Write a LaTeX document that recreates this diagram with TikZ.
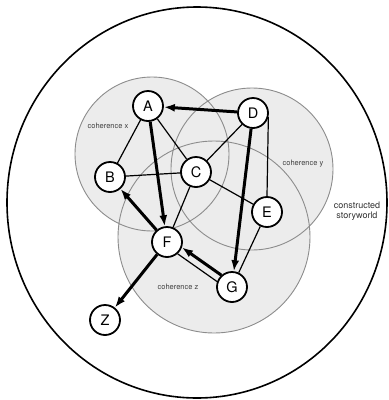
\documentclass[tikz,border=0pt]{standalone}
\usepackage{fontspec}
\setmainfont{TeX Gyre Heros}
\usetikzlibrary{arrows.meta}
\definecolor{cohfill}{HTML}{ECECEC}
\definecolor{cohline}{HTML}{8C8C8C}
\tikzset{>=Latex,event/.style={circle,draw,line width=1.8pt,fill=white,minimum size=30pt,inner sep=0pt,font=\fontsize{14.5}{16}\selectfont},link/.style={line width=1.2pt},arr/.style={-{Latex[length=11pt,width=8pt]},line width=3pt},coh/.style={draw=cohline,line width=0.9pt},cohlabel/.style={font=\fontsize{7.5}{9}\selectfont,text=black!75}}

\begin{document}
\begin{tikzpicture}[x=1pt,y=-1pt]
\useasboundingbox (0,0) rectangle (389,400);
\draw[line width=1.6pt] (197,202.5) ellipse (190 and 195.5);
% coherence areas
\fill[cohfill] (152,154) circle (77) (252,169) circle (81) (214,237) circle (96);
\draw[coh] (152,154) circle (77) (252,169) circle (81) (214,237) circle (96);
\node[cohlabel] (lx) at (108,126) {coherence x};
\node[cohlabel] (ly) at (303,164) {coherence y};
\node[cohlabel] (lz) at (178,287) {coherence z};
\node[font=\fontsize{9}{9.5}\selectfont,align=center,text=black!80] (world) at (357,211) {constructed\\storyworld};
% events
\node[event] (A) at (148,106) {A};
\node[event] (B) at (110,177) {B};
\node[event] (C) at (196,172) {C};
\node[event] (D) at (253,113) {D};
\node[event] (E) at (267,212) {E};
\node[event] (F) at (167,242) {F};
\node[event] (G) at (232,287) {G};
\node[event] (Z) at (105,320) {Z};
\draw[link] (A) -- (B);
\draw[link] (A) -- (C);
\draw[link] (B) -- (C);
\draw[link] (C) -- (D);
\draw[link] (C) -- (F);
\draw[link] (C) -- (E);
\draw[link] (D.-15) -- (E.north);
\draw[link] (E) -- (G);
\draw[link] (F.-48) -- (G.160);
\draw[arr] (D) -- (A);
\draw[arr] (A) -- (F);
\draw[arr] (D) -- (G);
\draw[arr] (F) -- (B);
\draw[arr] (G.132) -- (F.-20);
\draw[arr] (F) -- (Z);
\end{tikzpicture}
\end{document}
